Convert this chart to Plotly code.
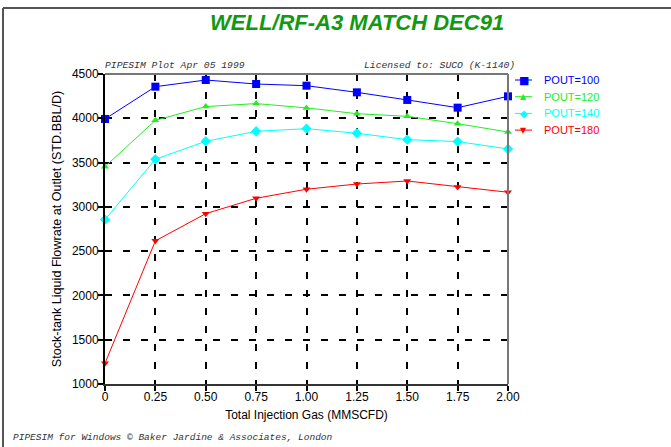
import plotly.graph_objects as go

x_gas = [0, 0.25, 0.5, 0.75, 1.0, 1.25, 1.5, 1.75, 2.0]
x_ticktext = ["0", "0.25", "0.50", "0.75", "1.00", "1.25", "1.50", "1.75", "2.00"]

pout100 = [3992, 4357, 4432, 4387, 4368, 4293, 4207, 4120, 4248]
pout120 = [3454, 3977, 4132, 4166, 4117, 4052, 4022, 3939, 3845]
pout140 = [2856, 3537, 3740, 3853, 3883, 3831, 3759, 3737, 3654]
pout180 = [1234, 2616, 2923, 3097, 3199, 3258, 3292, 3225, 3165]

y_ticks = [1000, 1500, 2000, 2500, 3000, 3500, 4000, 4500]

series_names = ["POUT=100", "POUT=120", "POUT=140", "POUT=180"]
series_values = [pout100, pout120, pout140, pout180]
series_colors = ["#0000ff", "#22ee22", "#00ffff", "#ff0000"]
series_symbols = ["square", "triangle-up", "diamond", "triangle-down"]
series_sizes = [8, 7, 8, 7]
legend_glyphs = ["■", "▲", "◆", "▼"]
legend_glyph_sizes = [11, 8, 10, 8]

W, H = 671, 447
L, R, T, B = 105, 163, 74, 63
PW, PH = W - L - R, H - T - B


def px_x(px):
    return (px - L) / PW


def px_y(py):
    return 1 - (py - T) / PH


fig = go.Figure()
for name, ys, col, sym, sz in zip(series_names, series_values, series_colors,
                                   series_symbols, series_sizes):
    fig.add_trace(go.Scatter(
        x=x_gas, y=ys, mode="lines+markers", name=name,
        line=dict(color=col, width=1),
        marker=dict(color=col, symbol=sym, size=sz),
        cliponaxis=False, showlegend=False,
    ))

grid_dash = "7px,11px"
fig.update_layout(
    width=W, height=H,
    margin=dict(l=L, r=R, t=T, b=B),
    paper_bgcolor="white", plot_bgcolor="white",
    font=dict(family="Liberation Sans, Arial", size=12, color="black"),
    showlegend=False,
    xaxis=dict(range=[0, 2], tickvals=x_gas, ticktext=x_ticktext,
               showgrid=True, gridcolor="black", gridwidth=2, griddash=grid_dash,
               showline=True, linecolor="#333", linewidth=2,
               ticks="outside", ticklen=5, tickwidth=2, tickcolor="black",
               ticklabelstandoff=-4,
               zeroline=False,
               title=dict(text="Total Injection Gas (MMSCFD)", standoff=7,
                          font=dict(size=12))),
    yaxis=dict(range=[1000, 4500], tickvals=y_ticks,
               showgrid=True, gridcolor="black", gridwidth=2, griddash=grid_dash,
               showline=True, linecolor="black", linewidth=2,
               ticks="outside", ticklen=5, tickwidth=2, tickcolor="black",
               ticklabelstandoff=-3,
               zeroline=False,
               title=dict(text="Stock-tank Liquid Flowrate at Outlet (STD.BBL/D)",
                          standoff=7, font=dict(size=12.6))),
)

# plot frame top/right (grey)
fig.add_shape(type="line", xref="x domain", yref="y domain", x0=0, x1=1, y0=1, y1=1,
              line=dict(color="#777", width=2))
fig.add_shape(type="line", xref="x domain", yref="y domain", x0=1, x1=1, y0=0, y1=1,
              line=dict(color="#777", width=2))

# outer page frame lines
fig.add_shape(type="line", xref="paper", yref="paper",
              x0=px_x(3), x1=px_x(W), y0=px_y(8), y1=px_y(8),
              line=dict(color="#555", width=2))
fig.add_shape(type="line", xref="paper", yref="paper",
              x0=px_x(3), x1=px_x(3), y0=px_y(H), y1=px_y(8),
              line=dict(color="#555", width=2))

# manual legend
for i, (name, col, glyph, gs) in enumerate(zip(series_names, series_colors,
                                                legend_glyphs, legend_glyph_sizes)):
    yy = 80 + i * 16.7
    fig.add_shape(type="line", xref="paper", yref="paper",
                  x0=px_x(515), x1=px_x(532), y0=px_y(yy), y1=px_y(yy),
                  line=dict(color=col, width=1))
    fig.add_annotation(text=glyph, x=px_x(523.5), y=px_y(yy), xref="paper", yref="paper",
                       showarrow=False, xanchor="center", yanchor="middle",
                       font=dict(size=gs, color=col, family="DejaVu Sans"))
    fig.add_annotation(text=name, x=px_x(542), y=px_y(yy), xref="paper", yref="paper",
                       showarrow=False, xanchor="left", yanchor="middle",
                       font=dict(size=11, color=col, family="Liberation Sans, Arial"))

fig.add_annotation(text="<b><i>WELL/RF-A3 MATCH DEC91</i></b>", x=px_x(357), y=px_y(22),
                   xref="paper", yref="paper", showarrow=False, xanchor="center", yanchor="middle",
                   font=dict(size=22, color="#119911", family="Liberation Sans, Arial"))
fig.add_annotation(text="<i>PIPESIM Plot Apr 05 1999</i>", x=px_x(103), y=px_y(66),
                   xref="paper", yref="paper", showarrow=False, xanchor="left", yanchor="middle",
                   font=dict(size=9.7, color="#333", family="Liberation Mono, Courier New"))
fig.add_annotation(text="<i>Licensed to: SUCO (K-1140)</i>", x=px_x(517), y=px_y(66),
                   xref="paper", yref="paper", showarrow=False, xanchor="right", yanchor="middle",
                   font=dict(size=9.7, color="#333", family="Liberation Mono, Courier New"))
fig.add_annotation(text="<i>PIPESIM for Windows © Baker Jardine &amp; Associates, London</i>",
                   x=px_x(11), y=px_y(437),
                   xref="paper", yref="paper", showarrow=False, xanchor="left", yanchor="middle",
                   font=dict(size=9.5, color="#333", family="Liberation Mono, Courier New"))

fig.write_html("out.html", config={"displayModeBar": False},
               post_script="document.body.style.margin='0';")
